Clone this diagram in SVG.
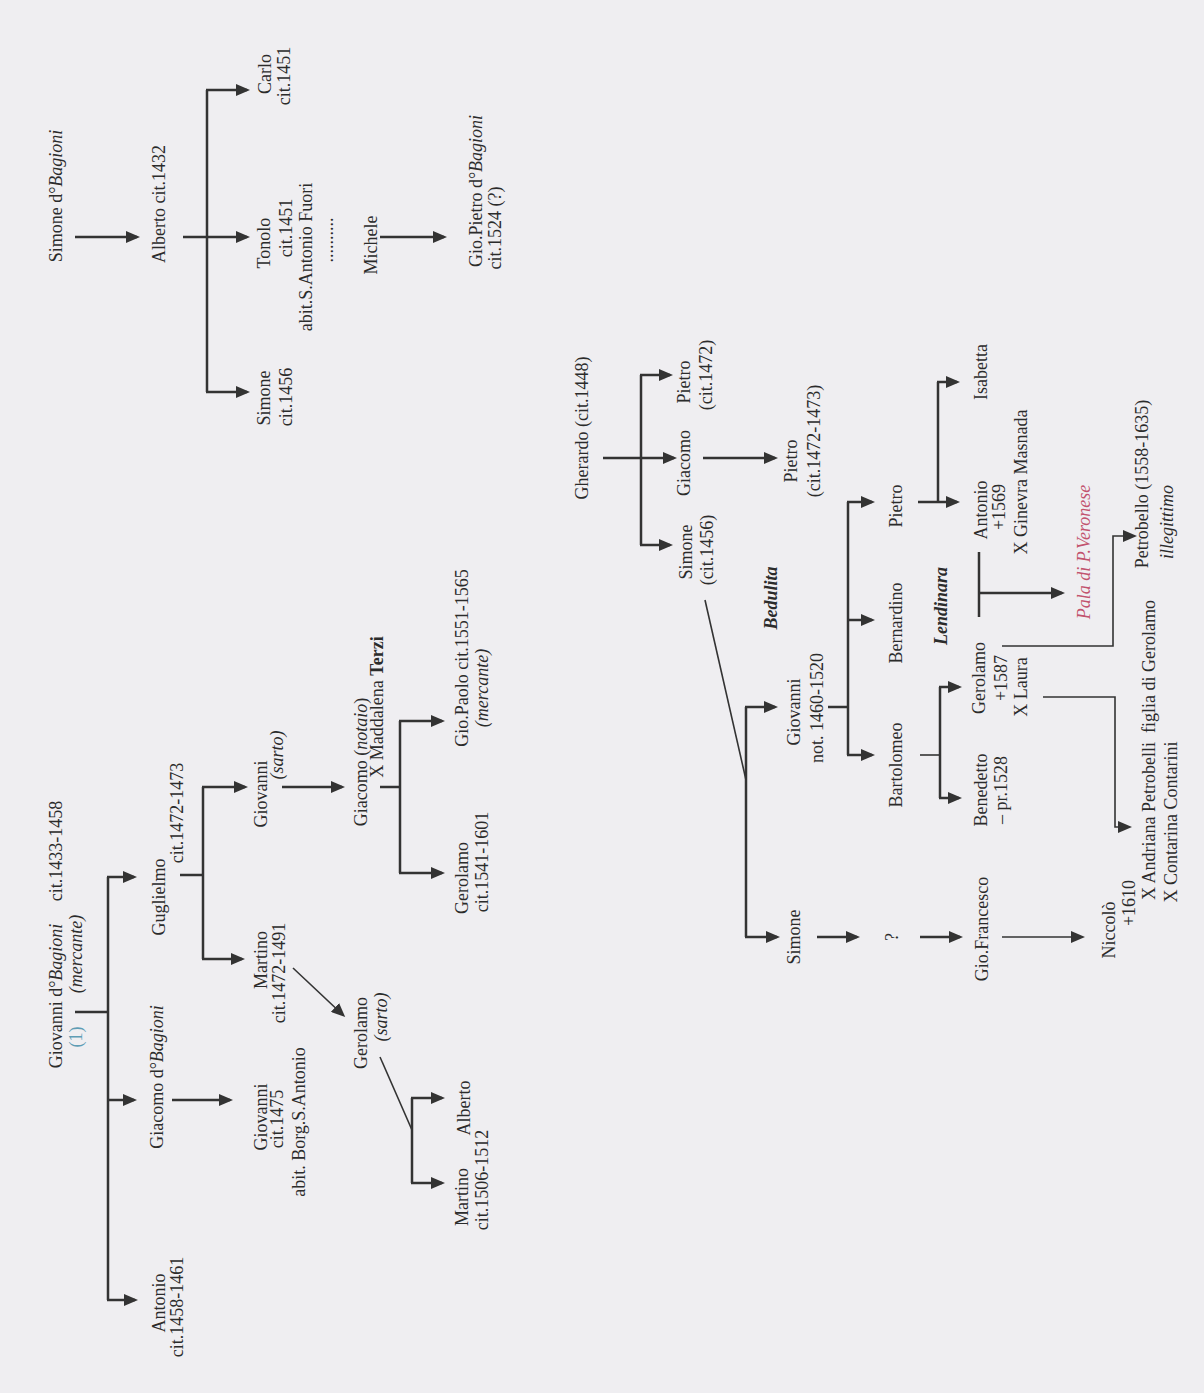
<svg xmlns="http://www.w3.org/2000/svg" width="1204" height="1393" viewBox="0 0 1204 1393">
<style>
.t{font-family:"Liberation Serif","Times New Roman",serif;font-size:18px;fill:#2b2b2b;text-anchor:middle}
.i{font-style:italic}
.b{font-weight:bold}
.bi{font-style:italic;font-weight:bold}
.blue{fill:#5f9db5}
.pink{fill:#c2536e;font-style:italic}
.c line,.c polyline{stroke:#333;stroke-width:2.5;fill:none}
.c .thin{stroke-width:1.6}
.c .arr{marker-end:url(#ah)}
</style>
<defs>
<marker id="ah" markerUnits="userSpaceOnUse" viewBox="0 0 14 12" markerWidth="14" markerHeight="12" refX="11" refY="6" orient="auto">
<path d="M0,0 L14,6 L0,12 z" fill="#333"/>
</marker>
</defs>
<rect width="1204" height="1393" fill="#efeef1"/>

<g class="c" id="connectors">
<!-- top tree -->
<line class="arr" x1="75" y1="237" x2="137" y2="237"/>
<line class="arr" x1="183" y1="237" x2="247" y2="237"/>
<line x1="207" y1="90" x2="207" y2="392"/>
<line class="arr" x1="206" y1="90" x2="247" y2="90"/>
<line class="arr" x1="206" y1="392" x2="247" y2="392"/>
<line class="arr" x1="380" y1="237" x2="444" y2="237"/>
<!-- left tree -->
<line x1="75" y1="1012" x2="108" y2="1012"/>
<line x1="108" y1="877" x2="108" y2="1300"/>
<line class="arr" x1="107" y1="877" x2="134" y2="877"/>
<line class="arr" x1="107" y1="1100" x2="134" y2="1100"/>
<line class="arr" x1="107" y1="1300" x2="135" y2="1300"/>
<line x1="180" y1="875" x2="203" y2="875"/>
<line x1="203" y1="787" x2="203" y2="959"/>
<line class="arr" x1="202" y1="787" x2="245" y2="787"/>
<line class="arr" x1="202" y1="959" x2="242" y2="959"/>
<line class="arr" x1="172" y1="1100" x2="230" y2="1100"/>
<line class="arr" x1="282" y1="787" x2="342" y2="787"/>
<line class="arr thin" x1="293" y1="968" x2="343" y2="1015"/>
<line x1="380" y1="787" x2="400" y2="787"/>
<line x1="400" y1="721" x2="400" y2="873"/>
<line class="arr" x1="399" y1="721" x2="442" y2="721"/>
<line class="arr" x1="399" y1="873" x2="442" y2="873"/>
<line class="thin" x1="380" y1="1057" x2="412" y2="1130"/>
<line x1="412" y1="1098" x2="412" y2="1183"/>
<line class="arr" x1="411" y1="1098" x2="442" y2="1098"/>
<line class="arr" x1="411" y1="1183" x2="442" y2="1183"/>
<!-- right tree -->
<line class="arr" x1="603" y1="458" x2="674" y2="458"/>
<line x1="641" y1="375" x2="641" y2="545"/>
<line class="arr" x1="640" y1="375" x2="670" y2="375"/>
<line class="arr" x1="640" y1="545" x2="670" y2="545"/>
<line class="arr" x1="703" y1="458" x2="775" y2="458"/>
<line class="thin" x1="705" y1="600" x2="746" y2="780"/>
<line x1="746" y1="707" x2="746" y2="937"/>
<line class="arr" x1="745" y1="707" x2="775" y2="707"/>
<line class="arr" x1="745" y1="937" x2="777" y2="937"/>
<line x1="828" y1="707" x2="848" y2="707"/>
<line x1="848" y1="502" x2="848" y2="755"/>
<line class="arr" x1="847" y1="502" x2="872" y2="502"/>
<line class="arr" x1="847" y1="620" x2="872" y2="620"/>
<line class="arr" x1="847" y1="755" x2="872" y2="755"/>
<line class="arr" x1="918" y1="502" x2="957" y2="502"/>
<line x1="938" y1="382" x2="938" y2="502"/>
<line class="arr" x1="937" y1="382" x2="957" y2="382"/>
<line class="thin" x1="920" y1="755" x2="940" y2="755"/>
<line x1="940" y1="687" x2="940" y2="798"/>
<line class="arr" x1="939" y1="687" x2="959" y2="687"/>
<line class="arr" x1="939" y1="798" x2="959" y2="798"/>
<line x1="979" y1="552" x2="979" y2="617"/>
<line class="arr" x1="979" y1="593" x2="1062" y2="593"/>
<polyline class="arr thin" points="1002,646 1113,646 1113,536 1134,536"/>
<polyline class="arr thin" points="1043,697 1115,697 1115,827 1129,827"/>
<line class="arr" x1="817" y1="937" x2="857" y2="937"/>
<line class="arr" x1="920" y1="937" x2="960" y2="937"/>
<line class="arr thin" x1="1002" y1="937" x2="1082" y2="937"/>
</g>

<!-- top tree nodes -->
<g id="n-simone-bagioni"><text class="t" transform="translate(62,196) rotate(-90)">Simone d°<tspan class="i">Bagioni</tspan></text></g>
<g id="n-alberto-1432"><text class="t" transform="translate(165,204) rotate(-90)">Alberto cit.1432</text></g>
<g id="n-carlo"><text class="t" transform="translate(271,74) rotate(-90)">Carlo</text><text class="t" transform="translate(290,76) rotate(-90)">cit.1451</text></g>
<g id="n-tonolo"><text class="t" transform="translate(270,243) rotate(-90)">Tonolo</text><text class="t" transform="translate(292,228) rotate(-90)">cit.1451</text><text class="t" transform="translate(312,257) rotate(-90)">abit.S.Antonio Fuori</text></g>
<g id="n-dots"><text class="t" transform="translate(333,240) rotate(-90)">..........</text></g>
<g id="n-michele"><text class="t" transform="translate(377,245) rotate(-90)">Michele</text></g>
<g id="n-giopietro"><text class="t" transform="translate(482,191) rotate(-90)">Gio.Pietro d°<tspan class="i">Bagioni</tspan></text><text class="t" transform="translate(501,228) rotate(-90)">cit.1524 (?)</text></g>
<g id="n-simone-1456a"><text class="t" transform="translate(270,398) rotate(-90)">Simone</text><text class="t" transform="translate(292,397) rotate(-90)">cit.1456</text></g>

<!-- left tree nodes -->
<g id="n-giovanni-bagioni"><text class="t" transform="translate(62,996) rotate(-90)">Giovanni d°<tspan class="i">Bagioni</tspan></text><text class="t" transform="translate(62,851) rotate(-90)">cit.1433-1458</text><text class="t i" transform="translate(82,954) rotate(-90)">(mercante)</text><text class="t blue" transform="translate(82,1037) rotate(-90)">(1)</text></g>
<g id="n-guglielmo"><text class="t" transform="translate(165,897) rotate(-90)">Guglielmo</text><text class="t" transform="translate(183,813) rotate(-90)">cit.1472-1473</text></g>
<g id="n-giacomo-bagioni"><text class="t" transform="translate(163,1077) rotate(-90)">Giacomo d°<tspan class="i">Bagioni</tspan></text></g>
<g id="n-antonio-1458"><text class="t" transform="translate(165,1303) rotate(-90)">Antonio</text><text class="t" transform="translate(183,1307) rotate(-90)">cit.1458-1461</text></g>
<g id="n-giovanni-sarto"><text class="t" transform="translate(267,794) rotate(-90)">Giovanni</text><text class="t i" transform="translate(283,755) rotate(-90)">(sarto)</text></g>
<g id="n-martino-1472"><text class="t" transform="translate(267,960) rotate(-90)">Martino</text><text class="t" transform="translate(285,973) rotate(-90)">cit.1472-1491</text></g>
<g id="n-giovanni-1475"><text class="t" transform="translate(267,1117) rotate(-90)">Giovanni</text><text class="t" transform="translate(283,1119) rotate(-90)">cit.1475</text><text class="t" transform="translate(305,1122) rotate(-90)">abit. Borg.S.Antonio</text></g>
<g id="n-giacomo-notaio"><text class="t" transform="translate(367,762) rotate(-90)">Giacomo (<tspan class="i">notaio</tspan>)</text><text class="t" transform="translate(383,707) rotate(-90)">X Maddalena <tspan class="b">Terzi</tspan></text></g>
<g id="n-gerolamo-sarto"><text class="t" transform="translate(367,1033) rotate(-90)">Gerolamo</text><text class="t i" transform="translate(387,1017) rotate(-90)">(sarto)</text></g>
<g id="n-giopaolo"><text class="t" transform="translate(468,658) rotate(-90)">Gio.Paolo cit.1551-1565</text><text class="t i" transform="translate(488,688) rotate(-90)">(mercante)</text></g>
<g id="n-gerolamo-1541"><text class="t" transform="translate(468,878) rotate(-90)">Gerolamo</text><text class="t" transform="translate(488,862) rotate(-90)">cit.1541-1601</text></g>
<g id="n-alberto"><text class="t" transform="translate(470,1108) rotate(-90)">Alberto</text></g>
<g id="n-martino-1506"><text class="t" transform="translate(468,1197) rotate(-90)">Martino</text><text class="t" transform="translate(488,1180) rotate(-90)">cit.1506-1512</text></g>

<!-- right tree nodes -->
<g id="n-gherardo"><text class="t" transform="translate(588,428) rotate(-90)">Gherardo (cit.1448)</text></g>
<g id="n-pietro-1472"><text class="t" transform="translate(690,382) rotate(-90)">Pietro</text><text class="t" transform="translate(712,375) rotate(-90)">(cit.1472)</text></g>
<g id="n-giacomo-g"><text class="t" transform="translate(690,463) rotate(-90)">Giacomo</text></g>
<g id="n-simone-1456b"><text class="t" transform="translate(692,552) rotate(-90)">Simone</text><text class="t" transform="translate(713,550) rotate(-90)">(cit.1456)</text></g>
<g id="n-pietro-1473"><text class="t" transform="translate(797,461) rotate(-90)">Pietro</text><text class="t" transform="translate(820,441) rotate(-90)">(cit.1472-1473)</text></g>
<g id="n-bedulita"><text class="t bi" transform="translate(777,598) rotate(-90)">Bedulita</text></g>
<g id="n-giovanni-not"><text class="t" transform="translate(800,712) rotate(-90)">Giovanni</text><text class="t" transform="translate(823,708) rotate(-90)">not. 1460-1520</text></g>
<g id="n-simone-c"><text class="t" transform="translate(800,937) rotate(-90)">Simone</text></g>
<g id="n-q"><text class="t" transform="translate(898,937) rotate(-90)">?</text></g>
<g id="n-giofrancesco"><text class="t" transform="translate(988,929) rotate(-90)">Gio.Francesco</text></g>
<g id="n-niccolo"><text class="t" transform="translate(1115,930) rotate(-90)">Niccolò</text><text class="t" transform="translate(1135,903) rotate(-90)">+1610</text></g>
<g id="n-pietro-b"><text class="t" transform="translate(902,506) rotate(-90)">Pietro</text></g>
<g id="n-bernardino"><text class="t" transform="translate(902,623) rotate(-90)">Bernardino</text></g>
<g id="n-bartolomeo"><text class="t" transform="translate(902,765) rotate(-90)">Bartolomeo</text></g>
<g id="n-lendinara"><text class="t bi" transform="translate(947,606) rotate(-90)">Lendinara</text></g>
<g id="n-isabetta"><text class="t" transform="translate(987,372) rotate(-90)">Isabetta</text></g>
<g id="n-antonio-1569"><text class="t" transform="translate(987,510) rotate(-90)">Antonio</text><text class="t" transform="translate(1005,507) rotate(-90)">+1569</text><text class="t" transform="translate(1027,482) rotate(-90)">X Ginevra Masnada</text></g>
<g id="n-gerolamo-1587"><text class="t" transform="translate(985,678) rotate(-90)">Gerolamo</text><text class="t" transform="translate(1007,678) rotate(-90)">+1587</text><text class="t" transform="translate(1027,687) rotate(-90)">X Laura</text></g>
<g id="n-benedetto"><text class="t" transform="translate(987,790) rotate(-90)">Benedetto</text><text class="t" transform="translate(1007,790) rotate(-90)">– pr.1528</text></g>
<g id="n-pala"><text class="t pink" transform="translate(1090,552) rotate(-90)">Pala di P.Veronese</text></g>
<g id="n-petrobello"><text class="t" transform="translate(1148,484) rotate(-90)">Petrobello (1558-1635)</text><text class="t i" transform="translate(1173,522) rotate(-90)">illegittimo</text></g>
<g id="n-andriana"><text class="t" transform="translate(1155,750) rotate(-90)" xml:space="preserve">X Andriana Petrobelli  figlia di Gerolamo</text><text class="t" transform="translate(1177,822) rotate(-90)">X Contarina Contarini</text></g>
</svg>
